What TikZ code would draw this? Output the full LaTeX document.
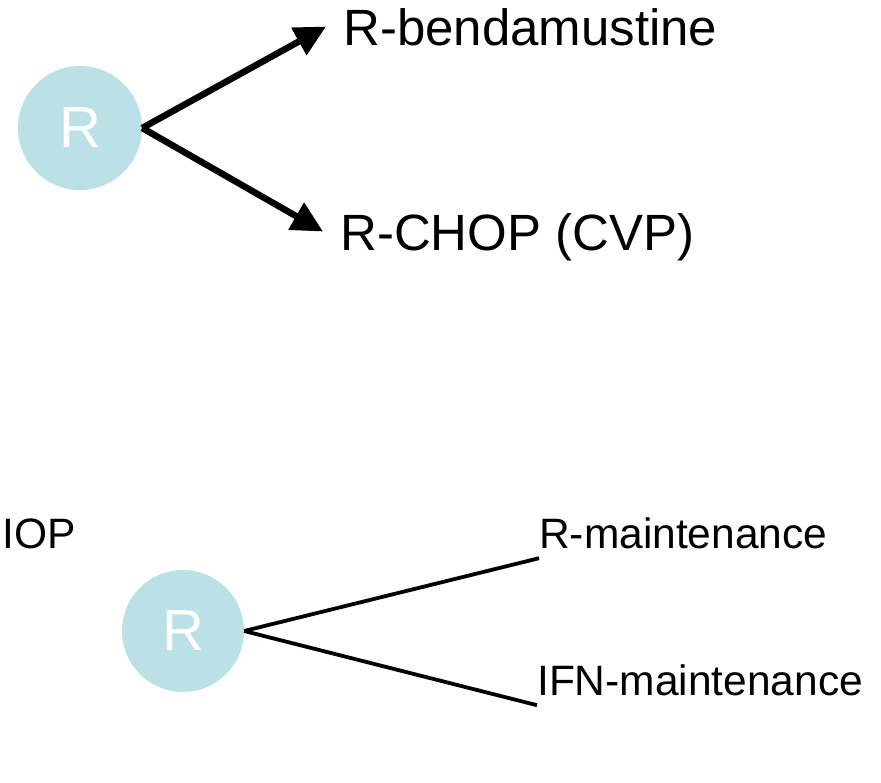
\documentclass[tikz,border=0pt]{standalone}
\usepackage{fontspec}
\setmainfont{Liberation Sans}
\usetikzlibrary{arrows.meta}
\definecolor{armblue}{RGB}{187,224,229}
\begin{document}
\begin{tikzpicture}[
    x=1pt, y=-1pt,
    rand/.style={circle, fill=armblue, text=white, inner sep=0pt, minimum size=#1, font=\fontsize{58}{66}\selectfont},
    biglabel/.style={anchor=base west, font=\fontsize{51}{60}\selectfont, text depth=0pt, inner xsep=17pt, inner ysep=0pt},
    smalllabel/.style={anchor=base west, font=\fontsize{42.5}{50}\selectfont, text depth=0pt, inner xsep=0pt, inner ysep=10pt},
    thick_arrow/.style={line width=6.5pt, -{Triangle[length=31pt, width=30pt]}},
    plain_line/.style={line width=3.8pt}
]
\useasboundingbox (0,0) rectangle (881,782);

% --- Nodes ---
% Induction randomisation (top)
\node (rand1) at (80,128) [rand=124pt] {R};
\node (bend) at (326,45) [biglabel] {R-bendamustine};
\node (chop) at (323,250) [biglabel] {R-CHOP (CVP)};

% Maintenance randomisation (bottom)
\node (chopcut) at (2,548) [smalllabel] {IOP};
\node (rand2) at (183,631) [rand=122pt] {R};
\node (rmaint) at (539,548) [smalllabel] {R-maintenance};
\node (ifnmaint) at (537,695) [smalllabel] {IFN-maintenance};

% --- Edges ---
\draw [thick_arrow] (rand1.east) -- (bend.west);
\draw [thick_arrow] (rand1.east) -- (chop.west);

\draw [plain_line] (rand2.east) -- (rmaint.south west);
\draw [plain_line] (rand2.east) -- (ifnmaint.south west);

\end{tikzpicture}
\end{document}
